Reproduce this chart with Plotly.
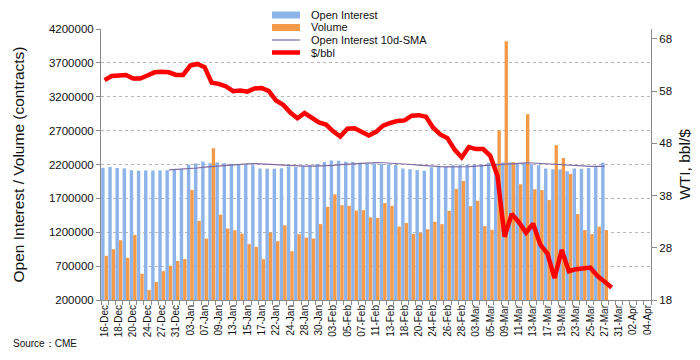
import plotly.graph_objects as go

dates = ["16-Dec","17-Dec","18-Dec","19-Dec","20-Dec","23-Dec","24-Dec","26-Dec","27-Dec","30-Dec","31-Dec",
         "02-Jan","03-Jan","06-Jan","07-Jan","08-Jan","09-Jan","10-Jan","13-Jan","14-Jan","15-Jan","16-Jan","17-Jan",
         "21-Jan","22-Jan","23-Jan","24-Jan","27-Jan","28-Jan","29-Jan","30-Jan","31-Jan",
         "03-Feb","04-Feb","05-Feb","06-Feb","07-Feb","10-Feb","11-Feb","12-Feb","13-Feb","14-Feb","18-Feb","19-Feb",
         "20-Feb","21-Feb","24-Feb","25-Feb","26-Feb","27-Feb","28-Feb",
         "02-Mar","03-Mar","04-Mar","05-Mar","06-Mar","09-Mar","10-Mar","11-Mar","12-Mar","13-Mar","16-Mar","17-Mar",
         "18-Mar","19-Mar","20-Mar","23-Mar","24-Mar","25-Mar","26-Mar","27-Mar","30-Mar","31-Mar",
         "01-Apr","02-Apr","03-Apr","04-Apr"]

open_interest = [2150000, 2162000, 2148000, 2143000, 2116000, 2106000, 2112000, 2112000, 2112000, 2115000,
                 2136000, 2138000, 2200000, 2216000, 2244000, 2219000, 2231000, 2220000, 2210000, 2208000,
                 2195000, 2188000, 2140000, 2138000, 2138000, 2146000, 2170000, 2163000, 2182000, 2188000,
                 2209000, 2235000, 2258000, 2255000, 2241000, 2236000, 2226000, 2222000, 2212000, 2206000,
                 2202000, 2192000, 2140000, 2130000, 2116000, 2108000, 2158000, 2165000, 2176000, 2190000,
                 2195000, 2198000, 2196000, 2200000, 2225000, 2215000, 2230000, 2232000, 2210000, 2220000,
                 2205000, 2190000, 2140000, 2130000, 2128000, 2100000, 2140000, 2138000, 2150000, 2162000,
                 2228000]

volume = [852000, 950000, 1082000, 823000, 1161000, 587000, 347000, 465000, 626000, 705000,
          774000, 803000, 1823000, 1367000, 1107000, 2440000, 1460000, 1254000, 1229000, 1180000,
          1024000, 984000, 803000, 1195000, 1068000, 1303000, 920000, 1170000, 1121000, 1107000,
          1320000, 1575000, 1760000, 1600000, 1590000, 1520000, 1525000, 1420000, 1410000, 1630000,
          1590000, 1285000, 1335000, 1175000, 1190000, 1245000, 1355000, 1320000, 1515000, 1840000,
          1958000, 1585000, 1665000, 1290000, 1237000, 2708000, 4020000, 2235000, 1910000, 2943000,
          1835000, 1822000, 1675000, 2486000, 2295000, 2058000, 1468000, 1232000, 1173000, 1282000,
          1232000]

oi_sma = [None] * 9 + [
          2120000, 2125000, 2130000, 2138000, 2148000, 2160000, 2170000, 2180000, 2190000, 2198000,
          2205000, 2210000, 2212000, 2210000, 2205000, 2198000, 2192000, 2185000, 2180000, 2176000,
          2175000, 2176000, 2180000, 2188000, 2198000, 2206000, 2214000, 2220000, 2225000, 2228000,
          2226000, 2222000, 2215000, 2208000, 2200000, 2192000, 2182000, 2175000, 2170000, 2166000,
          2165000, 2166000, 2170000, 2176000, 2184000, 2192000, 2200000, 2210000, 2218000, 2222000,
          2224000, 2222000, 2216000, 2208000, 2200000, 2192000, 2185000, 2180000, 2176000, 2173000,
          2172000, 2172000]

price = [60.1, 60.9, 61.0, 61.1, 60.4, 60.4, 61.0, 61.6, 61.7, 61.6,
         61.1, 61.1, 62.9, 63.2, 62.6, 59.6, 59.4, 58.9, 58.0, 58.1,
         57.9, 58.5, 58.6, 58.0, 56.2, 55.4, 53.9, 52.8, 53.8, 53.0,
         52.0, 51.6, 50.3, 49.3, 50.8, 50.9, 50.3, 49.5, 50.2, 51.4,
         51.9, 52.3, 52.4, 53.3, 53.4, 53.1, 51.0, 49.7, 49.0, 46.8,
         45.3, 47.3, 46.9, 46.9, 45.6, 41.8, 30.1, 34.5, 32.9, 30.9,
         32.6, 28.6, 26.9, 22.2, 27.6, 23.5, 23.9, 24.1, 24.2, 22.6,
         21.6, 20.4]

left_ticks = [200000, 700000, 1200000, 1700000, 2200000, 2700000, 3200000, 3700000, 4200000]
right_ticks = [18, 28, 38, 48, 58, 68]

legend_names = ["Open Interest", "Volume", "Open Interest 10d-SMA", "$/bbl"]

idx = list(range(len(dates)))
label_pos = idx[::2]
label_text = dates[::2]

FONT = "Liberation Sans, Arial, sans-serif"
OFF = 8                       # page body margin of the browser
W, H = 692, 352
ML, MR, MT, MB = 93, 49, 21, 60
PW, PH = W - ML - MR, H - MT - MB

BLUE, ORANGE, PURPLE, RED = "#8cb3ea", "#f39a4b", "#7e6aa3", "#ff0000"


def px(sx, sy):
    """screen pixel -> paper coordinates"""
    return (sx - OFF - ML) / PW, (OFF + H - MB - sy) / PH


fig = go.Figure()
fig.add_trace(go.Bar(x=idx[:len(open_interest)], y=open_interest, name=legend_names[0],
                     marker=dict(color=BLUE, line=dict(width=0))))
fig.add_trace(go.Bar(x=idx[:len(volume)], y=volume, name=legend_names[1],
                     marker=dict(color=ORANGE, line=dict(width=0))))
fig.add_trace(go.Scatter(x=idx[:len(oi_sma)], y=oi_sma, name=legend_names[2], mode="lines",
                         line=dict(color=PURPLE, width=1.2)))
fig.add_trace(go.Scatter(x=idx[:len(price)], y=price, name=legend_names[3], mode="lines", yaxis="y2",
                         line=dict(color=RED, width=4.5)))

shapes = []
annotations = []
x0, y0 = px(250, 0)
x1, y1 = px(450, 59)
shapes.append(dict(type="rect", xref="paper", yref="paper", x0=x0, y0=y1, x1=x1, y1=y0,
                   fillcolor="white", line=dict(width=0), layer="above"))
rows = [15, 27.5, 40, 52.5]
for i, (name, ry) in enumerate(zip(legend_names, rows)):
    sx0, sy0 = px(272, ry - 3.5)
    sx1, sy1 = px(300, ry + 3.5)
    if i < 2:
        shapes.append(dict(type="rect", xref="paper", yref="paper", x0=sx0, x1=sx1, y0=sy1, y1=sy0,
                           fillcolor=BLUE if i == 0 else ORANGE, line=dict(width=0), layer="above"))
    else:
        lx0, ly = px(272, ry)
        lx1, _ = px(300, ry)
        shapes.append(dict(type="line", xref="paper", yref="paper", x0=lx0, x1=lx1, y0=ly, y1=ly,
                           line=dict(color=PURPLE if i == 2 else RED, width=1.2 if i == 2 else 4.5),
                           layer="above"))
    tx, ty = px(310, ry)
    annotations.append(dict(text=name, xref="paper", yref="paper", x=tx, y=ty, xanchor="left",
                            yanchor="middle", showarrow=False, borderpad=0,
                            font=dict(size=11, family=FONT)))

sx, sy = px(11, 343)
annotations.append(dict(text="Source：CME", xref="paper", yref="paper", x=sx, y=sy,
                        xanchor="left", yanchor="middle", showarrow=False, font=dict(size=10, family=FONT)))

fig.update_layout(
    width=W, height=H,
    margin=dict(l=ML, r=MR, t=MT, b=MB, autoexpand=False),
    paper_bgcolor="white", plot_bgcolor="white",
    font=dict(family=FONT, color="#111111", size=11),
    barmode="group", bargap=0.05, bargroupgap=0.0,
    showlegend=False,
    xaxis=dict(range=[-0.5, len(dates) - 0.5], tickmode="array", tickvals=label_pos, ticktext=label_text,
               tickangle=-90, tickfont=dict(size=10), showgrid=False, zeroline=False, automargin=False,
               showline=True, linecolor="#8a8a8a", linewidth=1, ticks="",
               minor=dict(tickmode="linear", tick0=-0.5, dtick=1, ticks="outside", ticklen=4,
                          tickcolor="#8a8a8a", showgrid=False)),
    yaxis=dict(range=[200000, 4200000], tickmode="array", tickvals=left_ticks, tickformat="d",
               tickfont=dict(size=11.5), showgrid=True, gridcolor="#b5b5b5", griddash="3px,3px",
               gridwidth=1, zeroline=False, showline=True, linecolor="#8a8a8a", linewidth=1,
               ticks="outside", ticklen=4, tickcolor="#8a8a8a", automargin=False,
               title=dict(text="Open Interest / Volume (contracts)", font=dict(size=15.5), standoff=20)),
    yaxis2=dict(range=[18, 69.9], overlaying="y", side="right", tickmode="array", tickvals=right_ticks,
                tickfont=dict(size=11.5), showgrid=False, zeroline=False, showline=True, automargin=False,
                linecolor="#8a8a8a", linewidth=1, ticks="outside", ticklen=5, tickcolor="#8a8a8a",
                title=dict(text="WTI, bbl/$", font=dict(size=15.5), standoff=8)),
    shapes=shapes,
    annotations=annotations,
)

fig.write_html("out.html")
